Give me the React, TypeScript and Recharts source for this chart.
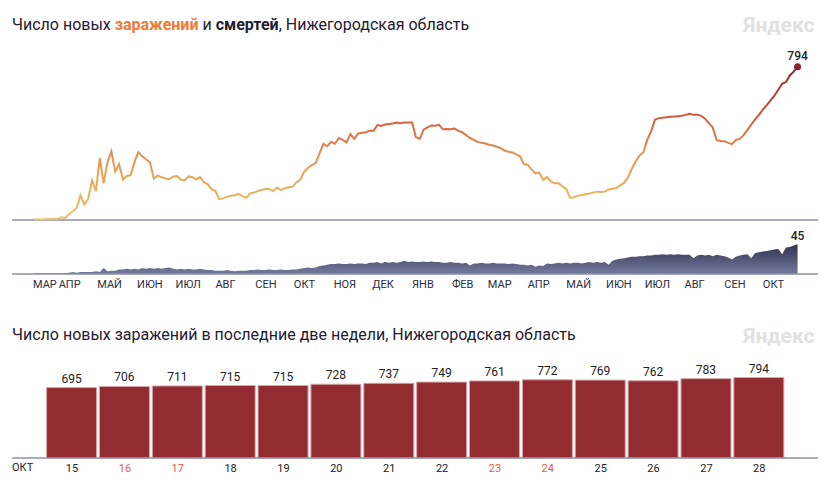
import React from "react";
import {
  Area, AreaChart, Bar, BarChart, LabelList, Line, LineChart,
  ReferenceLine, XAxis, YAxis,
} from "recharts";

const FONT = "Roboto, 'Noto Sans', sans-serif";
const AXIS = "#8a8fa6";

// one value every 3 days, starting 13 Mar 2020 (day 1 after 12 Mar), ending 28 Oct 2021
const STEP = 3;

const casesA = [
  2, 3, 3, 4, 5, 5, 6, 14, 10, 30,
  45, 62, 128, 80, 110, 205, 150, 320, 190, 300,
  355, 250, 290, 210, 228, 232, 300, 352, 330, 315,
  300, 215, 230, 222, 215, 212, 225, 228, 210, 205,
  226, 222, 210, 222, 196, 185, 160, 150, 108, 112,
];
const casesB = [
  121, 126, 128, 135, 122, 115, 138, 142, 150, 155,
  162, 160, 150, 168, 155, 165, 170, 172, 195, 208,
  250, 270, 285, 295, 345, 395, 382, 405, 395, 425,
  415, 402, 445, 420, 448, 452, 455, 463, 462, 492,
  488, 495, 498, 500, 505, 502, 505, 505, 505, 430,
];
const casesC = [
  420, 468, 480, 490, 488, 493, 470, 472, 470, 474,
  462, 455, 440, 425, 415, 405, 400, 396, 390, 386,
  380, 372, 360, 354, 350, 340, 330, 290, 286, 262,
  242, 246, 208, 222, 200, 190, 190, 175, 160, 115,
  118, 125, 130, 134, 138, 142, 147, 145, 147, 158,
];
const casesD = [
  162, 166, 180, 192, 220, 265, 303, 334, 350, 415,
  458, 520, 528, 530, 532, 535, 536, 538, 540, 545,
  550, 545, 546, 540, 525, 502, 480, 415, 410, 408,
  400, 393, 415, 420, 440, 467, 495, 522, 545, 572,
  595, 620, 645, 675, 706, 715, 749, 769, 794,
];

const deathsA = [
  1, 1, 1, 1, 1, 1, 1, 1, 1, 2,
  3, 2, 3, 3, 3, 3, 4, 3, 9, 4,
  5, 5, 7, 7, 8, 7, 8, 7, 9, 8,
  9, 8, 9, 8, 9, 10, 8, 7, 8, 7,
  8, 7, 7, 8, 7, 6, 6, 5, 5, 5,
];
const deathsB = [
  6, 5, 4, 5, 5, 5, 6, 6, 7, 6,
  6, 7, 6, 6, 7, 6, 6, 7, 7, 8,
  9, 10, 9, 10, 12, 13, 14, 15, 15, 16,
  15, 15, 16, 15, 16, 16, 15, 17, 17, 18,
  16, 18, 17, 18, 17, 18, 20, 18, 19, 18,
];
const deathsC = [
  18, 19, 18, 19, 18, 18, 17, 17, 18, 17,
  17, 16, 17, 13, 16, 16, 17, 16, 16, 17,
  16, 16, 16, 15, 16, 15, 14, 14, 13, 14,
  11, 13, 12, 16, 15, 16, 17, 16, 17, 16,
  17, 17, 16, 17, 18, 17, 18, 17, 18, 14,
];
const deathsD = [
  20, 22, 23, 24, 25, 26, 26, 27, 27, 28,
  28, 29, 29, 30, 29, 30, 29, 30, 29, 29,
  29, 24, 28, 29, 28, 29, 27, 29, 28, 27,
  25, 22, 26, 28, 29, 30, 24, 32, 33, 34,
  35, 36, 37, 38, 30, 40, 41, 43, 45,
];

// month starts, in days after 12 Mar 2020
const monthTicks = [0, 20, 50, 81, 111, 142, 173, 203, 234, 264, 295, 326, 354, 385, 415, 446, 476, 507, 538, 568];
const monthNames = ["МАР", "АПР", "МАЙ", "ИЮН", "ИЮЛ", "АВГ", "СЕН", "ОКТ", "НОЯ", "ДЕК", "ЯНВ", "ФЕВ", "МАР", "АПР", "МАЙ", "ИЮН", "ИЮЛ", "АВГ", "СЕН", "ОКТ"];

const lastDays = ["15", "16", "17", "18", "19", "20", "21", "22", "23", "24", "25", "26", "27", "28"];
const lastCases = [695, 706, 711, 715, 715, 728, 737, 749, 761, 772, 769, 762, 783, 794];
const weekendDays = ["16", "17", "23", "24"];

const cases = [...casesA, ...casesB, ...casesC, ...casesD];
const deaths = [...deathsA, ...deathsB, ...deathsC, ...deathsD];
const series = cases.map((c, i) => ({ d: 1 + i * STEP, cases: c, deaths: deaths[i] }));
const barData = lastDays.map((day, i) => ({ day, value: lastCases[i] }));

const X_DOMAIN: [number, number] = [-16.3, 610.9];

const renderCaseDot = (p: any) => {
  if (p.index !== series.length - 1) return <g key={`d${p.index}`} />;
  return (
    <g key="last">
      <circle cx={p.cx} cy={p.cy} r={3.5} fill="#8b2327" />
      <text x={p.cx} y={p.cy - 7} textAnchor="middle" fontSize={12} fontWeight={500} fill="#222" fontFamily={FONT}>
        {p.payload.cases}
      </text>
    </g>
  );
};

const renderDeathLabel = (p: any) => {
  if (p.index !== series.length - 1) return null;
  return (
    <text x={p.x} y={p.y - 4} textAnchor="middle" fontSize={12} fontWeight={500} fill="#222" fontFamily={FONT}>
      {p.value}
    </text>
  );
};

const renderMonthTick = (p: any) => {
  const name = monthNames[monthTicks.indexOf(p.payload.value)];
  return (
    <text x={p.x} y={p.y + 14} textAnchor="start" fontSize={11} fill="#2a2d3e" fontFamily={FONT}>
      {name}
    </text>
  );
};

const renderDayTick = (p: any) => {
  const v = String(p.payload.value);
  return (
    <text x={p.x} y={p.y + 14} textAnchor="middle" fontSize={11}
      fill={weekendDays.includes(v) ? "#e25a52" : "#222"} fontFamily={FONT}>
      {v}
    </text>
  );
};

const titleStyle: React.CSSProperties = {
  position: "absolute", left: 12, fontFamily: FONT, fontSize: 16,
  lineHeight: "20px", color: "#1f2030", whiteSpace: "nowrap",
};
const logoStyle: React.CSSProperties = {
  position: "absolute", left: 743, fontFamily: FONT, fontSize: 21,
  fontWeight: 700, lineHeight: "24px", color: "#e1e1e1",
};

export default function App() {
  return (
    <div style={{ position: "absolute", left: 0, top: 0, width: 830, height: 485, background: "#fff" }}>
      <div style={{ ...titleStyle, top: 15 }}>
        Число новых <b style={{ color: "#f07a32" }}>заражений</b> и <b>смертей</b>, Нижегородская область
      </div>
      <div style={{ ...logoStyle, top: 13 }}>Яндекс</div>

      <div style={{ position: "absolute", left: 0, top: 0 }}>
        <LineChart width={830} height={222} data={series} margin={{ top: 56, right: 12, bottom: 2, left: 12 }}>
          <defs>
            <linearGradient id="caseGrad" x1="0" y1="0" x2="0" y2="1">
              <stop offset="0%" stopColor="#8b2327" />
              <stop offset="14%" stopColor="#b3352f" />
              <stop offset="32%" stopColor="#d5553a" />
              <stop offset="40%" stopColor="#de6a42" />
              <stop offset="57%" stopColor="#e2904f" />
              <stop offset="76%" stopColor="#e8aa5b" />
              <stop offset="100%" stopColor="#eec06c" />
            </linearGradient>
          </defs>
          <XAxis dataKey="d" type="number" domain={X_DOMAIN} hide />
          <YAxis domain={[0, 850]} hide />
          <ReferenceLine y={0} stroke={AXIS} strokeWidth={1.5} />
          <Line dataKey="cases" type="linear" stroke="url(#caseGrad)" strokeWidth={2}
            dot={renderCaseDot} activeDot={false} isAnimationActive={false} />
        </LineChart>
      </div>

      <div style={{ position: "absolute", left: 0, top: 200 }}>
        <AreaChart width={830} height={100} data={series} margin={{ top: 41, right: 12, bottom: 6, left: 12 }}>
          <defs>
            <linearGradient id="deathGrad" x1="0" y1="0" x2="0" y2="1">
              <stop offset="0%" stopColor="#2f3250" />
              <stop offset="100%" stopColor="#757b9e" />
            </linearGradient>
          </defs>
          <XAxis dataKey="d" type="number" domain={X_DOMAIN} ticks={monthTicks}
            interval={0} tick={renderMonthTick} tickLine={false} tickSize={0} tickMargin={0}
            axisLine={{ stroke: AXIS, strokeWidth: 1.5 }} height={20} />
          <YAxis domain={[0, 50]} hide />
          <Area dataKey="deaths" type="linear" stroke="none" fill="url(#deathGrad)" fillOpacity={1}
            dot={false} activeDot={false} isAnimationActive={false}>
            <LabelList dataKey="deaths" content={renderDeathLabel} />
          </Area>
        </AreaChart>
      </div>

      <div style={{ ...titleStyle, top: 325 }}>
        Число новых заражений в последние две недели, Нижегородская область
      </div>
      <div style={{ ...logoStyle, top: 324 }}>Яндекс</div>

      <div style={{ position: "absolute", left: 0, top: 340 }}>
        <BarChart width={830} height={145} data={barData} margin={{ top: 20, right: 12, bottom: 0, left: 12 }}>
          <XAxis dataKey="day" padding={{ left: 33.6, right: 32.3 }} interval={0} tick={renderDayTick}
            tickLine={false} tickSize={0} tickMargin={0} axisLine={{ stroke: AXIS, strokeWidth: 1.5 }} height={27} />
          <YAxis domain={[0, 967]} hide />
          <Bar dataKey="value" fill="#922c31" stroke="#d8a6a8" strokeWidth={1} barSize={50} isAnimationActive={false}>
            <LabelList dataKey="value" position="top" offset={5}
              style={{ fontSize: 12, fill: "#222", fontFamily: FONT }} />
          </Bar>
        </BarChart>
      </div>
      <div style={{ position: "absolute", left: 12, top: 461, fontFamily: FONT, fontSize: 11, lineHeight: "14px", color: "#222" }}>
        ОКТ
      </div>
    </div>
  );
}
